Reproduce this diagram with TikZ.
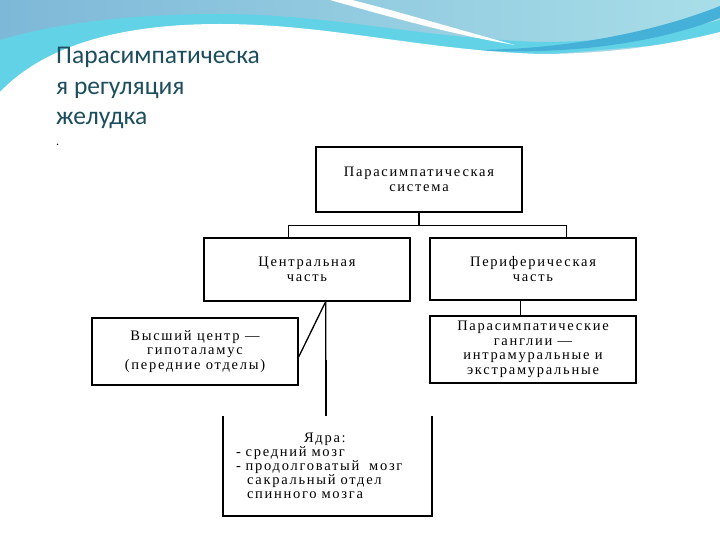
\documentclass[tikz,border=0pt]{standalone}
\usepackage{fontspec}
\setmainfont{Liberation Serif}
\newfontfamily\titlefont{Carlito}
\newfontfamily\boxfont[LetterSpace=12]{Liberation Serif}
\usetikzlibrary{calc}
\definecolor{titleteal}{HTML}{1D4E5E}
\definecolor{wavedeep}{HTML}{7EB8D8}
\definecolor{wavepale}{HTML}{A8DEE8}
\definecolor{wavecyan}{HTML}{62D2E6}
\definecolor{waveband}{HTML}{45B0D8}
\tikzset{
  box/.style={draw, line width=1.3pt, align=center, inner sep=2pt, minimum width=206pt,
    font=\boxfont\fontsize{14.5}{14.5}\selectfont},
  openbox/.style={align=left, inner xsep=13pt, inner ysep=0pt, text width=183pt, minimum height=100pt,
    font=\boxfont\fontsize{14.5}{14}\selectfont},
  link/.style={line width=1.3pt},
  heavylink/.style={line width=1.9pt}
}

\begin{document}
\begin{tikzpicture}[x=1pt,y=-1pt]
\useasboundingbox (0,0) rectangle (720,540);
% header wave
\fill[left color=wavedeep, right color=wavepale] (0,0) rectangle (720,100);
\fill[wavecyan] (0,40) .. controls (40,28) and (110,14) .. (220,14)
  .. controls (330,14) and (420,38) .. (540,42) .. controls (620,42) and (680,30) .. (720,20)
  -- (720,40) -- (0,100) -- cycle;
\fill[waveband] (470,50) .. controls (570,50) and (660,30) .. (720,6) -- (720,18)
  .. controls (660,42) and (570,56) .. (470,50) -- cycle;
\fill[white] (330,0) .. controls (400,20) and (460,36) .. (515,45)
  .. controls (460,30) and (400,12) .. (352,0) -- cycle;
\fill[white] (0,92) .. controls (40,50) and (110,24) .. (220,24)
  .. controls (330,24) and (420,50) .. (540,54) .. controls (620,54) and (680,42) .. (720,32)
  -- (720,540) -- (0,540) -- cycle;

% title
\node[anchor=north west, align=left, inner sep=0pt, text=titleteal,
  font=\titlefont\fontsize{25.5}{30.5}\selectfont] (title) at (56,47)
  {Парасимпатическа\\я регуляция\\желудка\\[-10pt]{\color{black}\fontsize{12}{12}\selectfont .}};

% boxes
\node[box, minimum height=65pt] (system) at (419,179.5) {Парасимпатическая\\система};
\node[box, minimum height=63pt] (central) at (307,269.5) {Центральная\\часть};
\node[box, minimum height=62pt] (periph) at (533,269) {Периферическая\\часть};
\node[box, minimum height=67pt] (higher) at (195,351.5) {Высший центр —\\гипоталамус\\(передние отделы)};
\node[box, minimum height=67pt] (ganglia) at (533,349.5) {Парасимпатические\\ганглии —\\интрамуральные и\\экстрамуральные};
\node[openbox] (nuclei) at (327.5,466) {\hspace*{68pt}Ядра:\\- средний мозг\\- продолговатый\ \ мозг\\\hspace*{11pt}сакральный отдел\\\hspace*{11pt}спинного мозга};
\draw[heavylink] (nuclei.north west) -- (nuclei.south west) -- (nuclei.south east) -- (nuclei.north east);

% connectors
\coordinate (cl) at ($(central.north west)!0.41!(central.north east)$);
\coordinate (pr) at ($(periph.north west)!0.66!(periph.north east)$);
\draw[link] (system.south) -- ++(0,13) coordinate (fork);
\draw[link] (cl) |- (fork) -| (pr);
\coordinate (cb) at ($(central.south west)!0.59!(central.south east)$);
\coordinate (he) at ($(higher.north east)!0.58!(higher.south east)$);
\draw[link] (cb) -- (he);
\coordinate (mid) at ($(cb)!0.51!(cb |- nuclei.north)$);
\draw[link] (cb) -- (mid);
\draw[heavylink] (mid) -- (mid |- nuclei.north);
\coordinate (pb) at ($(periph.south west)!0.44!(periph.south east)$);
\draw[link] (pb) -- (pb |- ganglia.north);
\end{tikzpicture}
\end{document}
